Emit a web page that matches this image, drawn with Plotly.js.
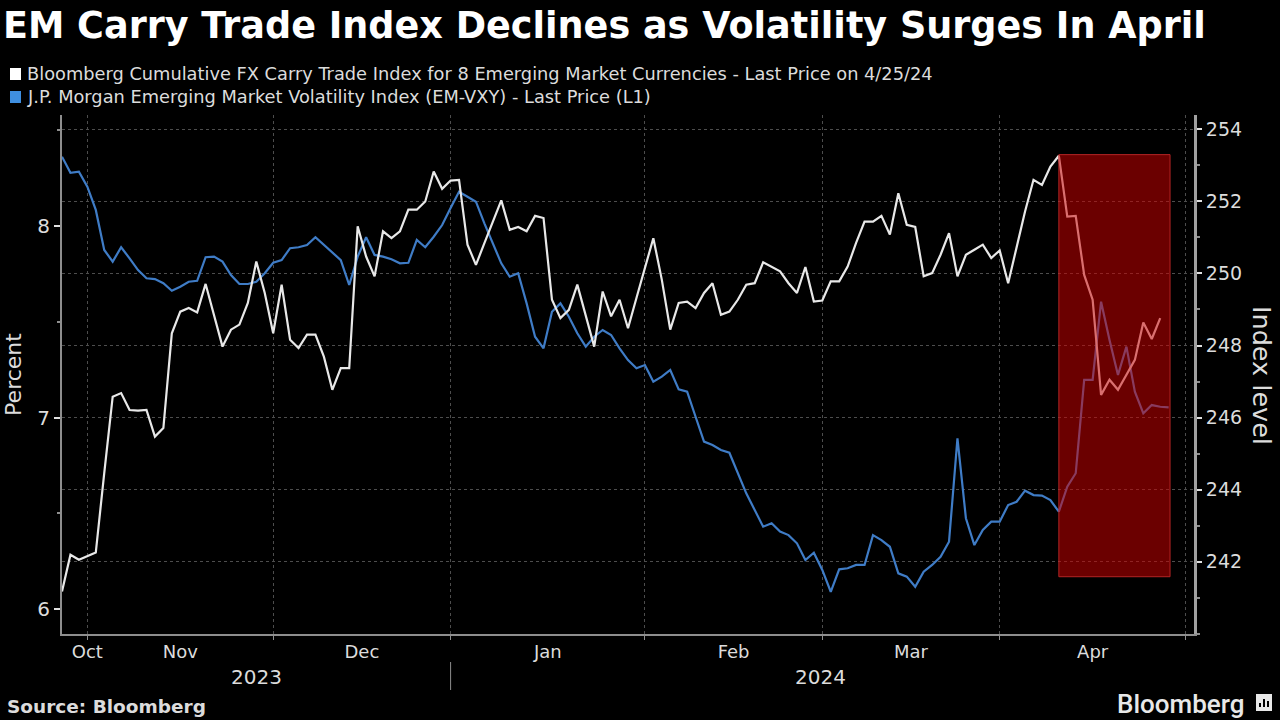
<!DOCTYPE html>
<html>
<head>
<meta charset="utf-8">
<script src="https://cdn.plot.ly/plotly-3.0.1.min.js"></script>
<style>
html,body{margin:0;padding:0;background:#000;}
#chart{width:1280px;height:720px;}
</style>
</head>
<body>
<div id="chart"></div>
<script>
// ---- data ----
const startDate = '2023-10-27'; // first trading day shown (weekday axis)

// J.P. Morgan EM-VXY (percent, left axis), one value per weekday
const vxy = [
8.362, 8.278, 8.284, 8.205, 8.084, 7.875, 7.814, 7.889, 7.831, 7.770,
7.727, 7.723, 7.701, 7.662, 7.683, 7.709, 7.714, 7.837, 7.840, 7.814,
7.744, 7.697, 7.697, 7.709, 7.753, 7.808, 7.822, 7.884, 7.889, 7.901,
7.941, 7.901, 7.857, 7.822, 7.692, 7.840, 7.941, 7.849, 7.840, 7.826,
7.805, 7.808, 7.927, 7.889, 7.944, 8.005, 8.094, 8.179, 8.153, 8.127,
8.014, 7.910, 7.805, 7.735, 7.753, 7.596, 7.422, 7.361, 7.552, 7.596,
7.526, 7.440, 7.370, 7.422, 7.457, 7.431, 7.361, 7.300, 7.257, 7.274,
7.187, 7.213, 7.248, 7.147, 7.135, 7.004, 6.874, 6.856, 6.830, 6.816,
6.709, 6.604, 6.517, 6.430, 6.448, 6.404, 6.386, 6.343, 6.256, 6.294,
6.204, 6.090, 6.207, 6.213, 6.230, 6.230, 6.386, 6.360, 6.325, 6.186,
6.169, 6.116, 6.195, 6.230, 6.273, 6.351, 6.891, 6.474, 6.334, 6.413,
6.456, 6.456, 6.543, 6.560, 6.618, 6.595, 6.592, 6.569, 6.508, 6.639,
6.709, 7.196, 7.196, 7.605, 7.405, 7.222, 7.370, 7.135, 7.022, 7.065,
7.056, 7.053
];

// Bloomberg Cumulative FX Carry Trade Index, 8 EM currencies (index level, right axis)
const carry = [
241.17, 242.19, 242.05, 242.16, 242.25, 244.46, 246.58, 246.68, 246.21, 246.19,
246.21, 245.47, 245.71, 248.34, 248.94, 249.04, 248.92, 249.71, 248.85, 247.97,
248.44, 248.58, 249.18, 250.33, 249.46, 248.34, 249.69, 248.16, 247.93, 248.30,
248.30, 247.69, 246.77, 247.37, 247.37, 251.31, 250.47, 249.92, 251.17, 250.98,
251.17, 251.77, 251.77, 252.00, 252.83, 252.35, 252.58, 252.60, 250.80, 250.24,
250.84, 251.44, 252.03, 251.21, 251.29, 251.17, 251.60, 251.54, 249.27, 248.76,
248.99, 249.69, 248.85, 247.97, 249.50, 248.81, 249.27, 248.48, 249.32, 250.15,
250.98, 249.83, 248.44, 249.18, 249.22, 249.04, 249.46, 249.73, 248.85, 248.94,
249.27, 249.69, 249.73, 250.31, 250.19, 250.06, 249.73, 249.46, 250.18, 249.22,
249.25, 249.78, 249.78, 250.19, 250.85, 251.44, 251.44, 251.60, 251.08, 252.23,
251.35, 251.29, 249.92, 250.01, 250.52, 251.12, 249.92, 250.52, 250.66, 250.80,
250.43, 250.64, 249.73, 250.71, 251.72, 252.60, 252.46, 252.97, 253.27, 251.58,
251.60, 249.96, 249.27, 246.63, 247.05, 246.77, 247.19, 247.60, 248.64, 248.18,
248.76
];

const seriesNames = [
  'Bloomberg Cumulative FX Carry Trade Index for 8 Emerging Market Currencies - Last Price on 4/25/24',
  'J.P. Morgan Emerging Market Volatility Index (EM-VXY) - Last Price (L1)'
];

const monthStarts = ['2023-11-01','2023-12-01','2024-01-01','2024-02-01','2024-03-01','2024-04-01','2024-05-01'];
const monthLabels = ['Oct','Nov','Dec','Jan','Feb','Mar','Apr'];
const monthLabelAt = ['2023-11-01','2023-11-16','2023-12-15 12:00','2024-01-16 12:00','2024-02-15 12:00','2024-03-15 12:00','2024-04-16'];
const yearLabels = ['2023','2024'];
const yearLabelAt = ['2023-11-29','2024-02-29 18:00'];

const leftTicks = [6, 7, 8];
const rightTicks = [242, 244, 246, 248, 250, 252, 254];

// weekday date axis
function weekdays(start, n) {
  const out = [];
  const d = new Date(start + 'T00:00:00Z');
  while (out.length < n) {
    const w = d.getUTCDay();
    if (w !== 0 && w !== 6) out.push(d.toISOString().slice(0, 10));
    d.setUTCDate(d.getUTCDate() + 1);
  }
  return out;
}
const dates = weekdays(startDate, vxy.length);

// ---- layout helpers ----
const FONT = 'DejaVu Sans, sans-serif';
const TXT = '#dcdcdc';
const GRID = '#4d4d4d';
const L = 62, R = 1194, T = 115, B = 634;
const px = x => (x - L) / (R - L);
const py = y => (B - y) / (B - T);

const traces = [
  {
    x: dates, y: vxy, name: seriesNames[1], type: 'scatter', mode: 'lines',
    yaxis: 'y', line: {color: '#3f7cc6', width: 2.2}, showlegend: false
  },
  {
    x: dates.slice(0, carry.length), y: carry, name: seriesNames[0], type: 'scatter', mode: 'lines',
    yaxis: 'y2', line: {color: '#e8e8e8', width: 2.2}, showlegend: false
  }
];

const layout = {
  width: 1280, height: 720,
  paper_bgcolor: '#000', plot_bgcolor: '#000',
  margin: {l: L, r: 1280 - R, t: T, b: 720 - B, pad: 0},
  showlegend: false,
  font: {family: FONT, color: TXT},
  title: {
    text: 'EM Carry Trade Index Declines as Volatility Surges In April',
    x: 3 / 1280, xanchor: 'left', xref: 'container',
    y: 1 - 25 / 720, yanchor: 'middle', yref: 'container',
    font: {family: 'DejaVu Sans, sans-serif', size: 36.6, color: '#ffffff', weight: 700}
  },
  xaxis: {
    type: 'date',
    range: ['2023-10-27', '2024-05-02'],
    rangebreaks: [{bounds: ['sat', 'mon']}],
    tickmode: 'array', tickvals: monthLabelAt, ticktext: monthLabels,
    ticks: '', ticklen: 0,
    tickfont: {family: FONT, size: 18, color: TXT},
    showgrid: false, zeroline: false,
    showline: true, linecolor: '#8e8e8e', linewidth: 2,
    minor: {
      tickmode: 'array', tickvals: monthStarts,
      ticks: 'outside', ticklen: 4, tickcolor: '#8e8e8e', tickwidth: 1,
      showgrid: true, gridcolor: GRID, griddash: 'dot', gridwidth: 1
    },
    fixedrange: true
  },
  yaxis: {
    range: [5.8695, 8.5796],
    tickmode: 'array', tickvals: leftTicks,
    ticks: 'outside', ticklen: 6, tickwidth: 2, tickcolor: '#e0e0e0',
    tickfont: {family: FONT, size: 20, color: TXT},
    showgrid: false, zeroline: false,
    showline: true, linecolor: '#8e8e8e', linewidth: 2,
    minor: {dtick: 0.5, tick0: 6, ticks: 'outside', ticklen: 3, tickcolor: '#8e8e8e', showgrid: false},
    title: {text: 'Percent', font: {family: FONT, size: 22, color: TXT}, standoff: 10},
    fixedrange: true
  },
  yaxis2: {
    overlaying: 'y', side: 'right',
    range: [239.99, 254.40],
    tickmode: 'array', tickvals: rightTicks,
    ticks: 'outside', ticklen: 5, tickwidth: 2, tickcolor: '#e0e0e0',
    tickfont: {family: FONT, size: 19, color: TXT},
    showgrid: true, gridcolor: GRID, griddash: 'dot', gridwidth: 1,
    zeroline: false,
    showline: true, linecolor: '#a0a0a0', linewidth: 3,
    minor: {dtick: 1, tick0: 241, ticks: 'outside', ticklen: 3, tickcolor: '#8e8e8e', showgrid: false},
    fixedrange: true
  },
  shapes: [
    // highlight box over the April move
    {type: 'rect', xref: 'x', yref: 'y2', x0: '2024-04-10', x1: '2024-04-29 04:00', y0: 241.58, y1: 253.30,
     fillcolor: 'rgba(205,0,0,0.52)', line: {color: 'rgba(190,40,40,0.9)', width: 1}, layer: 'above'},
    // legend squares
    {type: 'rect', xref: 'paper', yref: 'paper', x0: px(10), x1: px(21), y0: py(80), y1: py(68),
     fillcolor: '#ffffff', line: {width: 0}},
    {type: 'rect', xref: 'paper', yref: 'paper', x0: px(10), x1: px(21), y0: py(103), y1: py(91),
     fillcolor: '#3f8fe0', line: {width: 0}},
    // year separator
    {type: 'line', xref: 'x', yref: 'paper', x0: '2024-01-01', x1: '2024-01-01', y0: py(662), y1: py(690),
     line: {color: '#8e8e8e', width: 1}},
    // Bloomberg icon
    {type: 'rect', xref: 'paper', yref: 'paper', x0: px(1256), x1: px(1272), y0: py(711), y1: py(694),
     fillcolor: '#e8e8e8', line: {width: 0}},
    {type: 'rect', xref: 'paper', yref: 'paper', x0: px(1259), x1: px(1261), y0: py(707), y1: py(703),
     fillcolor: '#000', line: {width: 0}},
    {type: 'rect', xref: 'paper', yref: 'paper', x0: px(1263), x1: px(1265), y0: py(707), y1: py(699),
     fillcolor: '#000', line: {width: 0}},
    {type: 'rect', xref: 'paper', yref: 'paper', x0: px(1267), x1: px(1269), y0: py(707), y1: py(701),
     fillcolor: '#000', line: {width: 0}}
  ],
  annotations: [
    {xref: 'paper', yref: 'paper', x: px(25), y: py(74), xanchor: 'left', yanchor: 'middle', showarrow: false,
     text: seriesNames[0], font: {family: FONT, size: 17.8, color: TXT}},
    {xref: 'paper', yref: 'paper', x: px(25), y: py(97), xanchor: 'left', yanchor: 'middle', showarrow: false,
     text: seriesNames[1], font: {family: FONT, size: 17.8, color: TXT}},
    {xref: 'x', yref: 'paper', x: yearLabelAt[0], y: py(677), xanchor: 'center', yanchor: 'middle', showarrow: false,
     text: yearLabels[0], font: {family: FONT, size: 20, color: TXT}},
    {xref: 'x', yref: 'paper', x: yearLabelAt[1], y: py(677), xanchor: 'center', yanchor: 'middle', showarrow: false,
     text: yearLabels[1], font: {family: FONT, size: 20, color: TXT}},
    {xref: 'paper', yref: 'paper', x: px(1262), y: py(375), xanchor: 'center', yanchor: 'middle', showarrow: false,
     text: 'Index level', textangle: 90, font: {family: FONT, size: 25.5, color: TXT}},
    {xref: 'paper', yref: 'paper', x: px(5), y: py(706), xanchor: 'left', yanchor: 'middle', showarrow: false,
     text: 'Source: Bloomberg', font: {family: 'DejaVu Sans, sans-serif', size: 18.5, color: TXT, weight: 700}},
    {xref: 'paper', yref: 'paper', x: px(1246), y: py(704), xanchor: 'right', yanchor: 'middle', showarrow: false,
     text: 'Bloomberg', font: {family: 'Roboto, DejaVu Sans, sans-serif', size: 26, color: '#e8e8e8', weight: 500}}
  ]
};

Plotly.newPlot('chart', traces, layout, {staticPlot: true, displayModeBar: false});
</script>
</body>
</html>
